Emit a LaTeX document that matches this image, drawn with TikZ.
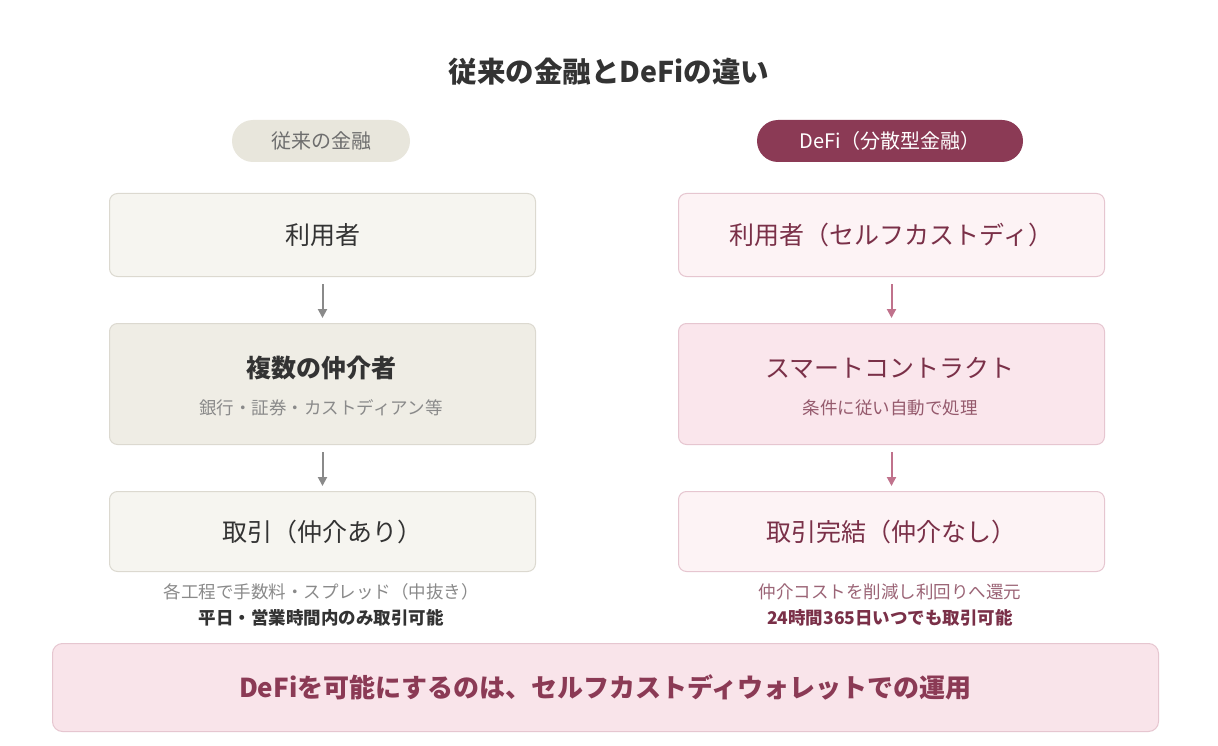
\documentclass[tikz,border=0pt]{standalone}
\usepackage{fontspec}
\setmainfont{Noto Sans CJK JP}
\usetikzlibrary{arrows.meta}
\definecolor{lbox}{HTML}{F6F5F0}
\definecolor{lbox2}{HTML}{EFEDE5}
\definecolor{lborder}{HTML}{DCD9D0}
\definecolor{rbox}{HTML}{FDF3F5}
\definecolor{rbox2}{HTML}{FAE6EC}
\definecolor{rborder}{HTML}{E6C6D0}
\definecolor{maroon}{HTML}{8B3A55}
\definecolor{rtext}{HTML}{7A3048}
\definecolor{ltext}{HTML}{333333}
\definecolor{gtext}{HTML}{8A8A8A}
\definecolor{pillL}{HTML}{E8E6DC}
\definecolor{bottomf}{HTML}{F9E4EA}
\definecolor{rarrow}{HTML}{C0728C}
\tikzset{
 x=1pt,y=-1pt,
 box/.style={draw,rounded corners=8pt,line width=1pt,minimum width=426pt,anchor=north west},
 lb/.style={box,fill=lbox,draw=lborder},
 rb/.style={box,fill=rbox,draw=rborder},
 ar/.style={-{Triangle[length=9pt,width=9pt]},line width=2pt,shorten <=7pt,shorten >=5pt},
 main/.style={font=\fontsize{25}{30}\selectfont},
 sub/.style={font=\fontsize{17.5}{21}\selectfont},
}
\begin{document}
\begin{tikzpicture}
\useasboundingbox[fill=white] (0,0) rectangle (1218,746);
\node[font=\bfseries\fontsize{28.5}{33}\selectfont,text=ltext] (title) at (609,72) {従来の金融とDeFiの違い};
\node[fill=pillL,rounded corners=21pt,minimum width=178pt,minimum height=42pt,text=gtext!80!black,font=\fontsize{20}{24}\selectfont] (pl) at (321,141) {従来の金融};
\node[fill=maroon,rounded corners=21pt,minimum width=266pt,minimum height=42pt,text=white,font=\fontsize{20}{24}\selectfont] (pr) at (890,141) {DeFi（分散型金融）};
% left
\node[lb,minimum height=83pt] (l1) at (109,193) {};
\node[main,text=ltext] at (l1.center) {利用者};
\node[lb,fill=lbox2,minimum height=121pt] (l2) at (109,323) {};
\node[text=ltext,font=\bfseries\fontsize{25}{30}\selectfont] at (321,368) {複数の仲介者};
\node[sub,text=gtext] at (321,408) {銀行・証券・カストディアン等};
\node[lb,minimum height=80pt] (l3) at (109,491) {};
\node[main,text=ltext] at (l3.center) {取引（仲介あり）};
\draw[ar,gtext] (l1.south) -- (l2.north);
\draw[ar,gtext] (l2.south) -- (l3.north);
\node[sub,text=gtext] (lt1) at (321,592) {各工程で手数料・スプレッド（中抜き）};
\node[text=ltext,font=\bfseries\fontsize{17.5}{21}\selectfont] (lt2) at (321,618) {平日・営業時間内のみ取引可能};
% right
\node[rb,minimum height=83pt] (r1) at (678,193) {};
\node[main,text=rtext] at (r1.center) {利用者（セルフカストディ）};
\node[rb,fill=rbox2,minimum height=121pt] (r2) at (678,323) {};
\node[main,text=rtext] at (890,368) {スマートコントラクト};
\node[sub,text=rtext!80!white] at (890,408) {条件に従い自動で処理};
\node[rb,minimum height=80pt] (r3) at (678,491) {};
\node[main,text=rtext] at (r3.center) {取引完結（仲介なし）};
\draw[ar,rarrow] (r1.south) -- (r2.north);
\draw[ar,rarrow] (r2.south) -- (r3.north);
\node[sub,text=rtext!75!white] (rt1) at (890,592) {仲介コストを削減し利回りへ還元};
\node[text=rtext,font=\bfseries\fontsize{17.5}{21}\selectfont] (rt2) at (890,618) {24時間365日いつでも取引可能};
% bottom
\node[draw=rborder,fill=bottomf,rounded corners=10pt,line width=1pt,minimum width=1106pt,minimum height=88pt,anchor=north west] (bt) at (52,643) {};
\node[text=maroon,font=\bfseries\fontsize{26}{31}\selectfont] at (bt.center) {DeFiを可能にするのは、セルフカストディウォレットでの運用};
\end{tikzpicture}
\end{document}
